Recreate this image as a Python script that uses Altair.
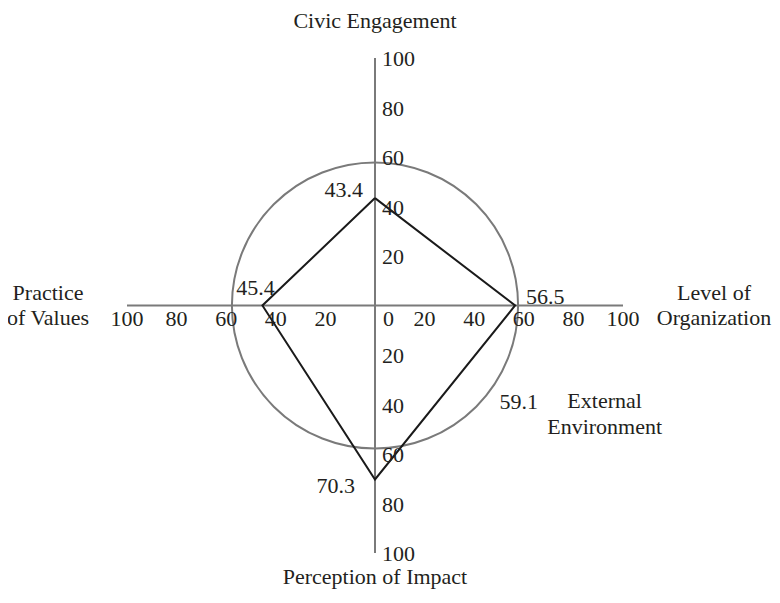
import math
import altair as alt
import pandas as pd

# ---- data -------------------------------------------------------------
dimensions = ["Civic Engagement", "Level of Organization", "Perception of Impact", "Practice of Values"]
scores = [43.4, 56.5, 70.3, 45.4]
dir_x = [0, 1, 0, -1]
dir_y = [1, 0, -1, 0]
external_name = "External\nEnvironment"
external_score = 59.1
reference_radius = 57.7
axis_max = 100
tick_values = [20, 40, 60, 80, 100]

FONT = "'Liberation Serif', 'Times New Roman', 'DejaVu Serif', serif"
TXT = "#231f20"
GREY = "#7a7a7a"
FS = 22

xs = alt.Scale(domain=[-axis_max, axis_max], nice=False, zero=False)
ys = alt.Scale(domain=[-axis_max, axis_max], nice=False, zero=False)
X = lambda f="x": alt.X(f"{f}:Q", scale=xs, axis=None)
Y = lambda f="y": alt.Y(f"{f}:Q", scale=ys, axis=None)

# axis lines
axes_df = pd.DataFrame({
    "x": [-axis_max, 0], "x2": [axis_max, 0],
    "y": [0, -axis_max], "y2": [0, axis_max],
})
axes = alt.Chart(axes_df).mark_rule(color=GREY, strokeWidth=2).encode(
    x=X(), x2="x2:Q", y=Y(), y2="y2:Q")

# reference circle
circle = alt.Chart(pd.DataFrame({"r": [reference_radius]})).mark_arc(
    theta=0, theta2=math.tau, fillOpacity=0, stroke=GREY, strokeWidth=2
).encode(radius=alt.Radius("r:Q", scale=alt.Scale(type="linear", domain=[0, axis_max], range=[0, 248], zero=True)))

# polygon
poly_rows = []
for i, (d, s, a, b) in enumerate(zip(dimensions + dimensions[:1], scores + scores[:1],
                                     dir_x + dir_x[:1], dir_y + dir_y[:1])):
    poly_rows.append({"order": i, "x": s * a, "y": s * b, "dim": d})
poly_df = pd.DataFrame(poly_rows)
poly = alt.Chart(poly_df).mark_line(color="#1a1a1a", strokeWidth=2).encode(
    x=X(), y=Y(), order="order:Q")

# tick labels
h_left = pd.DataFrame({"x": [-v for v in tick_values], "y": 0, "t": [str(v) for v in tick_values]})
h_right = pd.DataFrame({"x": tick_values, "y": 0, "t": [str(v) for v in tick_values]})
h_df = pd.concat([h_left, h_right])
h_ticks = alt.Chart(h_df).mark_text(font=FONT, fontSize=FS, color=TXT, align="center",
                                    baseline="middle", dy=13).encode(x=X(), y=Y(), text="t:N")
zero_tick = alt.Chart(pd.DataFrame({"x": [0], "y": [0], "t": ["0"]})).mark_text(
    font=FONT, fontSize=FS, color=TXT, align="left", baseline="middle", dx=8, dy=13
).encode(x=X(), y=Y(), text="t:N")
v_df = pd.concat([
    pd.DataFrame({"x": 0, "y": tick_values, "t": [str(v) for v in tick_values]}),
    pd.DataFrame({"x": 0, "y": [-v for v in tick_values], "t": [str(v) for v in tick_values]}),
])
v_ticks = alt.Chart(v_df).mark_text(font=FONT, fontSize=FS, color=TXT, align="left",
                                    baseline="middle", dx=7, dy=1).encode(x=X(), y=Y(), text="t:N")

# value labels
def vlabel(i, align, dx, dy):
    df = pd.DataFrame({"x": [scores[i] * dir_x[i]], "y": [scores[i] * dir_y[i]],
                       "t": [f"{scores[i]:.1f}"]})
    return alt.Chart(df).mark_text(font=FONT, fontSize=FS, color=TXT, align=align,
                                   baseline="middle", dx=dx, dy=dy).encode(x=X(), y=Y(), text="t:N")

val_labels = [
    vlabel(0, "right", -12, -8),
    vlabel(1, "left", 11, -9),
    vlabel(2, "right", -20, 7),
    vlabel(3, "center", -7, -18),
]

ext_pt = external_score * math.cos(math.pi / 4)
ext_df = pd.DataFrame({"x": [ext_pt], "y": [-ext_pt], "v": [f"{external_score:.1f}"], "n": [external_name]})
ext_val = alt.Chart(ext_df).mark_text(font=FONT, fontSize=FS, color=TXT, align="center",
                                      baseline="middle", dx=40, dy=-7).encode(x=X(), y=Y(), text="v:N")
ext_name = alt.Chart(ext_df).mark_text(font=FONT, fontSize=FS, color=TXT, align="center",
                                       baseline="middle", dx=126, dy=-8, lineBreak="\n",
                                       lineHeight=26).encode(x=X(), y=Y(), text="n:N")

# axis titles
def title(text, x, y, dx, dy):
    df = pd.DataFrame({"x": [x], "y": [y], "t": [text]})
    return alt.Chart(df).mark_text(font=FONT, fontSize=FS, color=TXT, align="center",
                                   baseline="middle", dx=dx, dy=dy, lineBreak="\n",
                                   lineHeight=25).encode(x=X(), y=Y(), text="t:N")

titles = [
    title(dimensions[0], 0, axis_max, 0, -37),
    title("Level of\nOrganization", axis_max, 0, 91, -13),
    title(dimensions[2], 0, -axis_max, 0, 24),
    title("Practice\nof Values", -axis_max, 0, -79, -13),
]

chart = alt.layer(
    circle, axes, poly, h_ticks, zero_tick, v_ticks, *val_labels, ext_val, ext_name, *titles
).properties(
    width=496, height=495,
    autosize=alt.AutoSizeParams(type="none"),
    padding={"left": 119, "top": 50, "right": 149, "bottom": 42},
).configure_view(stroke=None)

chart.save("out.html", embed_options={"renderer": "svg", "actions": False})
